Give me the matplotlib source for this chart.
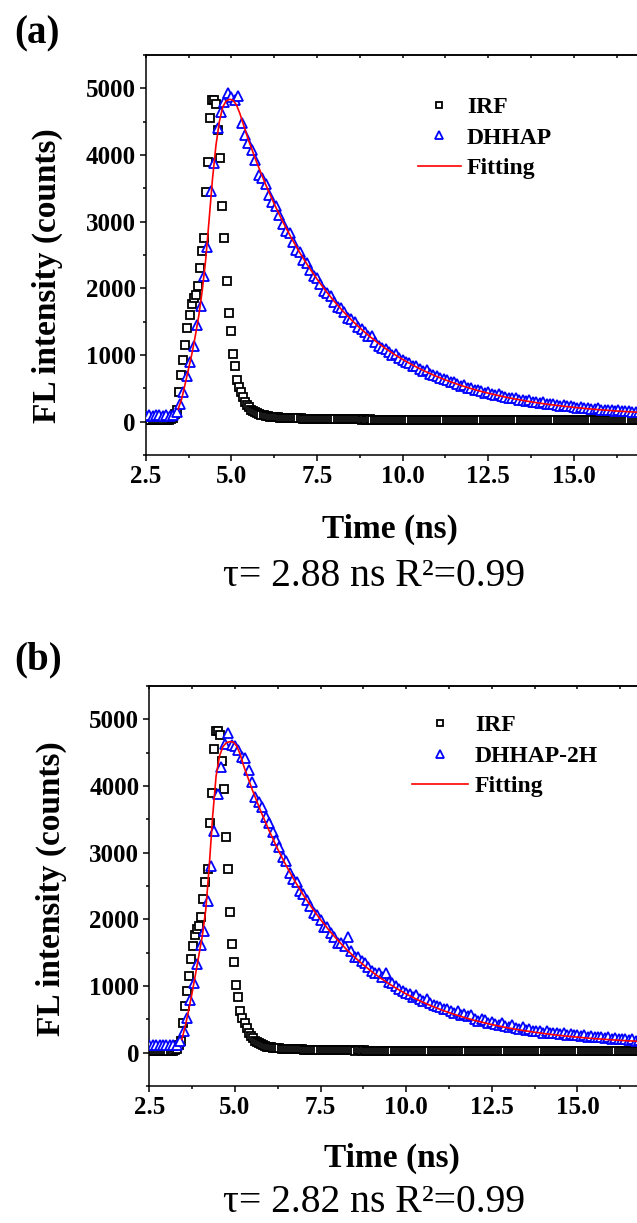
import numpy as np
import matplotlib
matplotlib.use("Agg")
import matplotlib.pyplot as plt
from matplotlib.ticker import MultipleLocator

plt.rcParams['font.family'] = ['Liberation Serif', 'DejaVu Serif']
plt.rcParams['font.weight'] = 'bold'

# ---------- data ----------
# IRF (same instrument response in both panels), channel grid
IRF_T0, IRF_DT = 2.46, 0.06
irf_counts = [25, 23, 26, 24, 22, 25, 27, 24, 23, 26, 25, 24, 28, 35,
              55, 110, 180, 450, 700, 920, 1150, 1400, 1600, 1760,
              1850, 1900, 2030, 2300, 2560, 2750, 3450, 3900, 4550, 4820,
              4830, 4760, 4380, 3960, 3240, 2760, 2110, 1630, 1360, 1020,
              840, 630, 520, 440, 370, 300, 250, 215, 180, 155,
              140, 125, 110, 100, 92, 86, 80, 76, 72, 68, 65, 62,
              60, 58, 57, 55, 54, 52, 51, 50, 49, 48, 47, 46, 45, 44, 43, 42, 41, 40,
              40, 39, 38, 39, 37, 38, 36, 37, 36, 35,
              36, 35, 34, 35, 33, 34, 33, 32, 34, 33,
              32, 33, 31, 32, 31, 30, 32, 31, 30, 31,
              30, 29, 31, 30, 29, 30, 28, 30, 29, 28,
              29, 28, 30, 28, 27, 29, 28, 27, 28, 29,
              27, 28, 26, 27, 28, 26, 27, 26, 28, 27,
              26, 27, 25, 26, 27, 26, 25, 27, 26, 25,
              26, 25, 27, 25, 26, 24, 26, 25, 24, 26,
              25, 24, 26, 25, 24, 25, 23, 25, 24, 26,
              24, 25, 23, 24, 25, 24, 23, 25, 24, 23,
              24, 23, 25, 24, 22, 24, 23, 24, 22, 23,
              24, 22, 23, 24, 23, 22, 24, 23, 22, 23,
              22, 24, 23, 22, 23, 21, 23, 22, 23, 22,
              21, 23, 22, 21, 23, 22, 21, 22, 23, 21,
              22, 21, 23, 22, 21, 22, 20, 22, 21, 22,
              21, 20, 22, 21, 20, 22, 21, 20, 21]

# sample decays, channel grid
DEC_T0, DEC_DT = 2.5, 0.1
dhhap = [90, 95, 88, 92, 96, 90, 93, 88, 95,
         140, 260, 440, 680, 900, 1140, 1450, 1730, 2190, 2620,
         3460, 3880, 4400, 4640, 4800, 4930, 4870, 4820, 4880,
         4480, 4300, 4180, 4070, 3930, 3700, 3660, 3560, 3400, 3290,
         3230, 3100, 2960, 2860, 2830, 2700, 2580, 2540, 2420, 2380,
         2280, 2180, 2150, 2060, 1960, 1930, 1890, 1790, 1720, 1700,
         1640, 1560, 1540, 1500, 1420, 1390, 1350, 1290, 1280, 1200,
         1130, 1100, 1090, 1040, 1000, 1010, 960, 930, 900, 880,
         840, 830, 790, 760, 770, 720, 700, 690, 650, 640,
         630, 590, 600, 560, 540, 550, 510, 500, 480, 470,
         460, 430, 440, 410, 400, 410, 380, 370, 360, 350,
         360, 330, 320, 310, 320, 300, 290, 280, 290, 270,
         260, 270, 250, 240, 250, 230, 230, 220, 210, 220,
         200, 200, 195, 190, 200, 180, 175, 180, 170, 165,
         170, 160, 155, 160, 150, 145, 150]

dhhap_2h = [110, 115, 108, 112, 118, 110, 113, 109, 115,
            180, 330, 520, 790, 1040, 1330, 1620, 1830, 2270, 2800,
            3330, 3880, 4280, 4630, 4800, 4620, 4600, 4540, 4430,
            4420, 4240, 4060, 3830, 3760, 3690, 3540, 3440, 3310, 3190,
            3090, 2940, 2880, 2690, 2610, 2560, 2430, 2380, 2290, 2200,
            2090, 2060, 1990, 1890, 1880, 1790, 1740, 1640, 1650, 1600,
            1740, 1530, 1440, 1430, 1370, 1340, 1280, 1230, 1200, 1190,
            1140, 1190, 1060, 1040, 1000, 960, 930, 900, 880, 840,
            870, 800, 780, 800, 740, 720, 700, 690, 650, 660,
            630, 600, 620, 570, 580, 550, 570, 510, 470, 500,
            490, 450, 460, 430, 420, 440, 400, 390, 410, 370,
            360, 380, 340, 350, 330, 320, 330, 300, 320, 300,
            290, 300, 280, 290, 270, 280, 260, 270, 250, 260,
            240, 250, 240, 230, 240, 220, 230, 210, 220, 200,
            210, 200, 190, 200, 180, 190, 175]

# fitted curves
fit_a_t = np.r_[np.arange(3.45, 5.26, 0.1), np.arange(5.5, 17.01, 0.25)]
fit_a = [190, 340, 560, 790, 1020, 1290, 1590, 1960, 2420, 3020,
         3640, 4140, 4500, 4720, 4810, 4835, 4820, 4750, 4620,
         4221, 3875, 3558, 3267, 3000, 2756, 2532, 2326, 2138, 1965,
         1806, 1661, 1528, 1406, 1294, 1191, 1097, 1011, 932, 860,
         793, 732, 676, 625, 578, 535, 495, 459, 426, 396,
         368, 342, 319, 297, 277, 259, 243, 228, 214, 201,
         189, 178, 169, 159, 151, 144, 137]
fit_b_t = np.r_[np.arange(3.45, 5.16, 0.1), np.arange(5.25, 17.01, 0.25)]
fit_b = [200, 400, 640, 900, 1180, 1470, 1760, 2150, 2800, 3550,
         4150, 4450, 4590, 4650, 4665, 4660, 4600, 4480,
         4310, 3953, 3626, 3327, 3053, 2802, 2573, 2363, 2171, 1996,
         1835, 1688, 1553, 1430, 1317, 1214, 1119, 1033, 954, 881,
         815, 754, 699, 648, 601, 559, 520, 484, 452, 422,
         395, 370, 347, 326, 307, 289, 273, 258, 245, 233,
         221, 211, 202, 193, 185, 178, 171, 165]

irf_t = IRF_T0 + IRF_DT*np.arange(len(irf_counts))

panels = [
    dict(tag="(a)", sample=dhhap, name="DHHAP", fit_t=fit_a_t, fit=fit_a,
         note="τ= 2.88 ns R²=0.99", xmax=16.84,
         rect=[0.2287, 0.6280, 0.7713, 0.3271],
         tag_y=1-34/1223, note_y=1-577/1223,
         ylab_y=0.4475, xlab_y=-0.185,
         leg_xy=(0.554, 0.896), hl=1.82, htp=0.25),
    dict(tag="(b)", sample=dhhap_2h, name="DHHAP-2H", fit_t=fit_b_t, fit=fit_b,
         note="τ= 2.82 ns R²=0.99", xmax=16.74,
         rect=[0.2344, 0.1120, 0.7656, 0.3271],
         tag_y=1-660/1223, note_y=1-1202/1223,
         ylab_y=0.4925, xlab_y=-0.18,
         leg_xy=(0.5387, 0.928), hl=2.37, htp=0.3),
]

fig = plt.figure(figsize=(6.37, 12.23), dpi=100)

for p in panels:
    ax = fig.add_axes(p["rect"])
    dec_t = DEC_T0 + DEC_DT*np.arange(len(p["sample"]))
    h1, = ax.plot(irf_t, irf_counts, ls="none", marker="s", ms=5.4, mew=1.3,
                  mec="black", mfc="white", label="IRF", zorder=2)
    h2, = ax.plot(dec_t, p["sample"], ls="none", marker="^", ms=6.8, mew=1.3,
                  mec="#0000FF", mfc="white", label=p["name"], zorder=3)
    h3, = ax.plot(p["fit_t"], p["fit"], color="#FF0000", lw=1.2,
                  label="Fitting", zorder=4)

    ax.set_xlim(2.5, p["xmax"])
    ax.set_ylim(-500, 5500)
    ax.xaxis.set_major_locator(MultipleLocator(2.5))
    ax.xaxis.set_minor_locator(MultipleLocator(1.25))
    ax.yaxis.set_major_locator(MultipleLocator(1000))
    ax.yaxis.set_minor_locator(MultipleLocator(500))
    ax.xaxis.set_major_formatter(matplotlib.ticker.FormatStrFormatter("%.1f"))
    ax.spines["right"].set_visible(False)
    for s in ("left", "bottom", "top"):
        ax.spines[s].set_linewidth(1.1)
    ax.tick_params(axis="both", which="major", direction="out", length=4.2,
                   width=1.1, labelsize=18, pad=3)
    ax.tick_params(axis="both", which="minor", direction="out", length=2.4,
                   width=1.1)
    for lab in ax.get_xticklabels() + ax.get_yticklabels():
        lab.set_fontweight("bold")

    # short inward ticks on the top frame line
    top = ax.secondary_xaxis("top")
    top.xaxis.set_major_locator(MultipleLocator(2.5))
    top.xaxis.set_minor_locator(MultipleLocator(1.25))
    top.tick_params(which="both", direction="in", length=2.4, width=1.1,
                    labeltop=False)
    top.spines["top"].set_linewidth(1.1)

    ax.set_xlabel("Time (ns)", fontsize=24, fontweight="bold", va="center")
    ax.xaxis.set_label_coords(0.497, p["xlab_y"])
    ax.set_ylabel("FL intensity (counts)", fontsize=24, fontweight="bold",
                  va="center")
    ax.yaxis.set_label_coords(-0.20, p["ylab_y"])

    ax.legend(handles=[h1, h2, h3], loc="upper left",
              bbox_to_anchor=p["leg_xy"], frameon=False,
              prop={"weight": "bold", "size": 17}, borderpad=0,
              borderaxespad=0, handlelength=p["hl"], handletextpad=p["htp"],
              labelspacing=0.38, markerscale=0.85)

    fig.text(14/637, p["tag_y"], p["tag"], fontsize=28, fontweight="bold",
             ha="left", va="center")
    fig.text(374/637, p["note_y"], p["note"], fontsize=28.5, fontweight="normal",
             ha="center", va="center")

fig.savefig("out.png", dpi=100)
